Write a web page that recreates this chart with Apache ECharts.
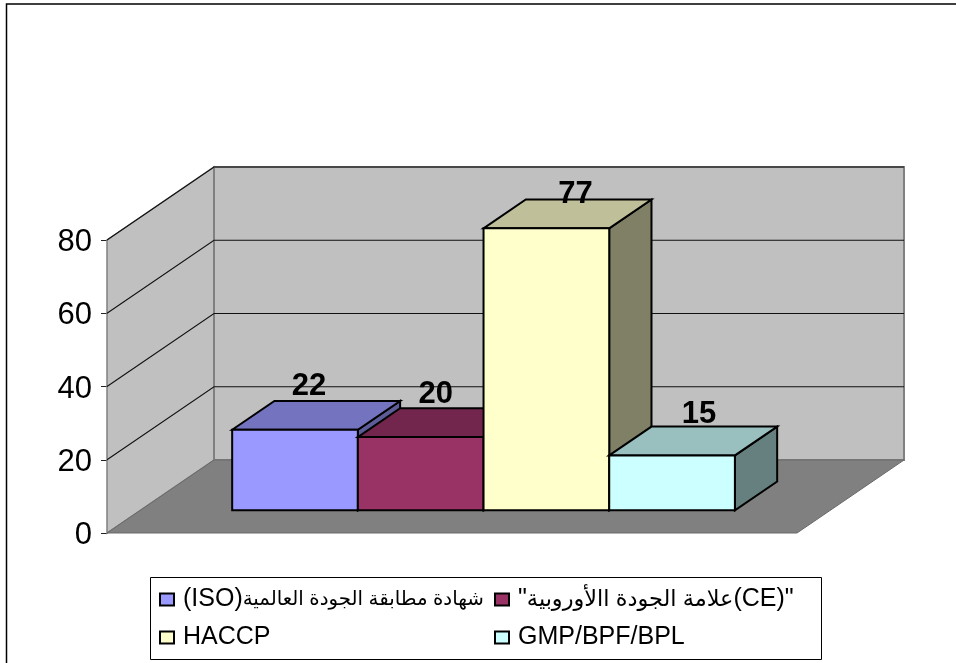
<!DOCTYPE html>
<html>
<head>
<meta charset="utf-8">
<style>
html, body { margin: 0; padding: 0; background: #fff; }
#chart { width: 956px; height: 663px; }
</style>
<script src="https://cdn.jsdelivr.net/npm/echarts@6/dist/echarts.min.js"></script>
</head>
<body>
<div id="chart"></div>
<script>
var seriesNames = ['(ISO)شهادة مطابقة الجودة العالمية', '"علامة الجودة االأوروبية(CE)"', 'HACCP', 'GMP/BPF/BPL'];
var seriesValues = [22, 20, 77, 15];
var yTicks = [0, 20, 40, 60, 80];

var frontColors = ['#9999FF', '#993366', '#FFFFCC', '#CCFFFF'];
var topColors = ['#7373BF', '#73264D', '#BFBF99', '#99BFBF'];
var sideColors = ['#5C5C99', '#5C1F3D', '#808066', '#668080'];

// label nudge from the back edge of each bar top
var labelNudgeX = [14, 15, 29, 27];
var labelNudgeY = [-15, -14, -5, -12];

var font = '"Liberation Sans", "DejaVu Sans", Arial, sans-serif';
var depthX = 107, depthY = 73;   // wall depth in px
var barFront = 0.31, barBack = 0.705;   // bar position along the depth
var xMax = 5.49, barStart = 0.732;

function shift(p, f) {
    return [p[0] + depthX * f, p[1] - depthY * f];
}

function poly(pts, fill, stroke, lineWidth) {
    return {
        type: 'polygon',
        shape: {points: pts},
        style: {fill: fill, stroke: stroke, lineWidth: lineWidth, lineJoin: 'miter'}
    };
}

function renderWalls(params, api) {
    var bl = api.coord([0, 0]), br = api.coord([xMax, 0]);
    var tl = api.coord([0, 80]), tr = api.coord([xMax, 80]);
    var children = [
        poly([tl, shift(tl, 1), shift(bl, 1), bl], '#C0C0C0', '#808080', 1.5),
        poly([shift(tl, 1), shift(tr, 1), shift(br, 1), shift(bl, 1)], '#C0C0C0', '#808080', 2),
        poly([bl, shift(bl, 1), shift(br, 1), br], '#808080', '#6a6a6a', 1)
    ];
    yTicks.forEach(function (t) {
        if (t === 0) return;
        var a = api.coord([0, t]), b = api.coord([xMax, t]);
        children.push({
            type: 'polyline',
            shape: {points: [a, shift(a, 1), shift(b, 1)]},
            style: {fill: null, stroke: '#111', lineWidth: 1.1}
        });
    });
    return {type: 'group', children: children};
}

function renderBar(i) {
    return function (params, api) {
        var v = api.value(1);
        var x0 = barStart + i, x1 = barStart + i + 1;
        var lb = api.coord([x0, 0]), rb = api.coord([x1, 0]);
        var lt = api.coord([x0, v]), rt = api.coord([x1, v]);
        var black = '#000';
        var fTL = shift(lt, barFront), fTR = shift(rt, barFront);
        var fBL = shift(lb, barFront), fBR = shift(rb, barFront);
        var bTL = shift(lt, barBack), bTR = shift(rt, barBack), bBR = shift(rb, barBack);
        return {
            type: 'group',
            children: [
                poly([fTR, bTR, bBR, fBR], sideColors[i], black, 2),
                poly([fTL, bTL, bTR, fTR], topColors[i], black, 2),
                poly([fTL, fTR, fBR, fBL], frontColors[i], black, 2),
                {
                    type: 'text',
                    z2: 10,
                    style: {
                        x: (fTL[0] + fTR[0]) / 2 + labelNudgeX[i],
                        y: bTL[1] + labelNudgeY[i],
                        text: String(seriesValues[i]),
                        font: 'bold 31px ' + font,
                        fill: '#000',
                        align: 'center',
                        verticalAlign: 'middle'
                    }
                }
            ]
        };
    };
}

var series = [{
    type: 'custom',
    name: 'walls',
    silent: true,
    renderItem: renderWalls,
    data: [[0, 0]],
    z: 1
}];
seriesNames.forEach(function (name, i) {
    series.push({
        type: 'custom',
        name: name,
        renderItem: renderBar(i),
        itemStyle: {color: frontColors[i]},
        data: [[i, seriesValues[i]]],
        encode: {x: 0, y: 1},
        clip: false,
        z: 2 + i
    });
});

// arabic comes out wider than latin in the installed font, so size the runs apart
function legendFormatter(name) {
    if (name === seriesNames[0]) {
        return '{la|(ISO)}{ar1|شهادة مطابقة الجودة العالمية}';
    }
    if (name === seriesNames[1]) {
        return '{la|"}{ar2|علامة الجودة االأوروبية}{la|(CE)"}';
    }
    return '{la|' + name + '}';
}

function legendAt(left, names) {
    return {
        show: true,
        orient: 'vertical',
        left: left,
        top: 587,
        itemWidth: 14,
        itemHeight: 12,
        itemGap: 13,
        padding: 0,
        icon: 'rect',
        itemStyle: {borderColor: '#000', borderWidth: 2},
        formatter: legendFormatter,
        textStyle: {
            fontFamily: font,
            color: '#000',
            padding: [0, 0, 0, 4],
            rich: {
                la: {fontFamily: font, fontSize: 25, color: '#000', height: 28},
                ar1: {fontFamily: font, fontSize: 19.8, color: '#000', height: 28},
                ar2: {fontFamily: font, fontSize: 22.4, color: '#000', height: 28}
            }
        },
        selectedMode: false,
        data: names
    };
}

var myChart = echarts.init(document.getElementById('chart'));
myChart.setOption({
    animation: false,
    backgroundColor: '#fff',
    grid: {left: 107, right: 159, top: 240, bottom: 130},
    xAxis: {type: 'value', min: 0, max: xMax, show: false},
    yAxis: {
        type: 'value',
        min: 0,
        max: 80,
        interval: 20,
        axisLine: {show: true, lineStyle: {color: '#222', width: 1}},
        axisTick: {show: true, length: 6, lineStyle: {color: '#222'}},
        axisLabel: {
            margin: 15,
            formatter: '{tick|{value}}',
            rich: {
                tick: {fontFamily: font, fontSize: 31, color: '#000', padding: [5, 0, 0, 0]}
            }
        },
        splitLine: {show: false}
    },
    legend: [
        legendAt(159, [seriesNames[0], seriesNames[2]]),
        legendAt(494, [seriesNames[1], seriesNames[3]])
    ],
    graphic: [
        {
            type: 'rect',
            silent: true,
            shape: {x: 6.5, y: 4, width: 960, height: 670},
            style: {fill: null, stroke: '#000', lineWidth: 1.5}
        },
        {
            type: 'rect',
            silent: true,
            shape: {x: 150.5, y: 577.5, width: 671, height: 82},
            style: {fill: null, stroke: '#000', lineWidth: 1}
        }
    ],
    series: series
});
</script>
</body>
</html>
